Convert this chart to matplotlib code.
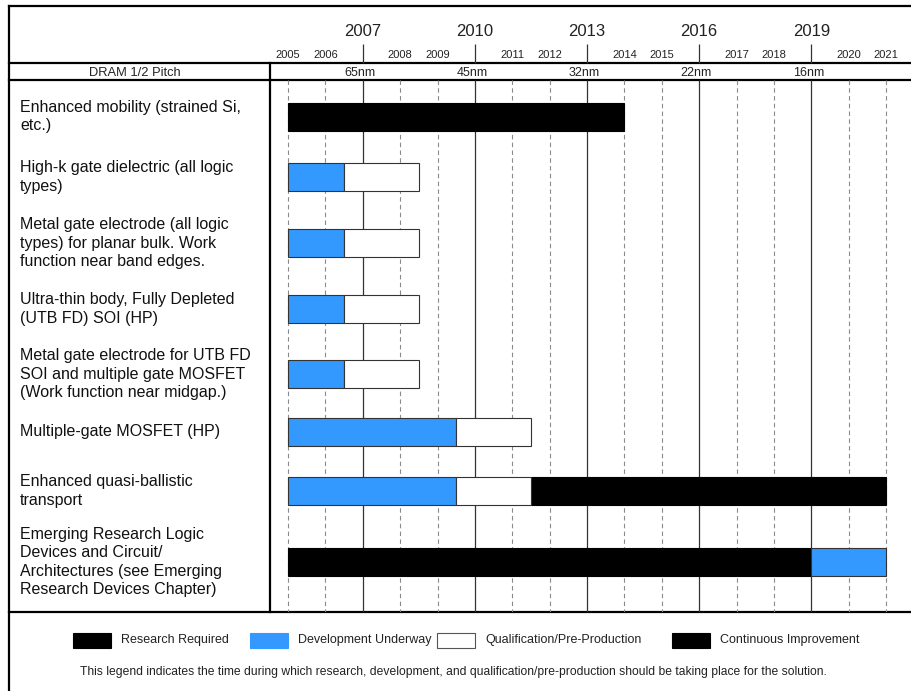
import matplotlib
matplotlib.use("Agg")
import matplotlib.pyplot as plt
from matplotlib.patches import Rectangle

plt.rcParams['font.family'] = ['Liberation Sans', 'DejaVu Sans']

# ---- data ----
labels = [
    "Enhanced mobility (strained Si,\netc.)",
    "High-k gate dielectric (all logic\ntypes)",
    "Metal gate electrode (all logic\ntypes) for planar bulk. Work\nfunction near band edges.",
    "Ultra-thin body, Fully Depleted\n(UTB FD) SOI (HP)",
    "Metal gate electrode for UTB FD\nSOI and multiple gate MOSFET\n(Work function near midgap.)",
    "Multiple-gate MOSFET (HP)",
    "Enhanced quasi-ballistic\ntransport",
    "Emerging Research Logic\nDevices and Circuit/\nArchitectures (see Emerging\nResearch Devices Chapter)",
]

years = list(range(2005, 2022))
major_years = [2007, 2010, 2013, 2016, 2019]
dram_pitch = ["65nm", "45nm", "32nm", "22nm", "16nm"]

# black bars (research required / continuous improvement)
black_rows = [0, 6, 7]
black_start = [2005, 2011.5, 2005]
black_end = [2014, 2021, 2019]

# blue bars (development underway)
dev_rows = [1, 2, 3, 4, 5, 6, 7]
dev_start = [2005, 2005, 2005, 2005, 2005, 2005, 2019]
dev_end = [2006.5, 2006.5, 2006.5, 2006.5, 2009.5, 2009.5, 2021]

# white bars (qualification / pre-production)
qual_rows = [1, 2, 3, 4, 5, 6]
qual_start = [2006.5, 2006.5, 2006.5, 2006.5, 2009.5, 2009.5]
qual_end = [2008.5, 2008.5, 2008.5, 2008.5, 2011.5, 2011.5]

legend_names = ["Research Required", "Development Underway",
                "Qualification/Pre-Production", "Continuous Improvement"]
legend_colors = ["black", "#3399ff", "white", "black"]
footnote = ("This legend indicates the time during which research, development, "
            "and qualification/pre-production should be taking place for the solution.")

# ---- layout (pixel units of the 911x691 image) ----
W, H = 911, 691
row_y = [116.5, 177, 243, 309, 374, 431.5, 491, 562]
bar_h = 28
blue = "#3399ff"
px_per_year = 37.375
x_left_px = 270

fig = plt.figure(figsize=(W / 100, H / 100), dpi=100)

# background axes in pixel coordinates: frame, label column, legend
bg = fig.add_axes([0, 0, 1, 1])
bg.set_xlim(0, W)
bg.set_ylim(H, 0)
bg.axis('off')

lw = 1.6
bg.plot([9, W], [6, 6], color='black', lw=lw)
bg.plot([9, W], [63, 63], color='black', lw=lw)
bg.plot([9, W], [80, 80], color='black', lw=lw)
bg.plot([9, W], [612, 612], color='black', lw=lw)
bg.plot([9, 9], [6, H], color='black', lw=lw)
bg.plot([x_left_px, x_left_px], [63, 612], color='black', lw=lw)

bg.text(135, 72.5, "DRAM 1/2 Pitch", fontsize=9.3, ha='center', va='center',
        color='#222222')

for lab, y in zip(labels, row_y):
    bg.text(20, y, lab, fontsize=11.5, ha='left', va='center', linespacing=1.3,
            color='#111111')

# legend
sw_x = [73, 250, 437, 672]
for name, col, x in zip(legend_names, legend_colors, sw_x):
    bg.add_patch(Rectangle((x, 633), 38, 15, facecolor=col,
                           edgecolor='#555555' if col == 'white' else col, lw=0.8))
    bg.text(x + 48, 640.5, name, fontsize=9, ha='left', va='center', color='#222222')
bg.text(453, 672, footnote, fontsize=8.7, ha='center', va='center', color='#222222')

# chart axes: x in years, y in pixel rows
x0 = 2005 - (288 - x_left_px) / px_per_year
x1 = 2005 + (W - 288) / px_per_year
ax = fig.add_axes([x_left_px / W, 1 - 612 / H, (W - x_left_px) / W, (612 - 6) / H])
ax.set_facecolor('none')
ax.set_xlim(x0, x1)
ax.set_ylim(612, 6)
ax.axis('off')

for yr in years:
    if yr in major_years:
        ax.vlines(yr, 80, 612, color='#333333', lw=0.9)
        ax.vlines(yr, 44, 63, color='#333333', lw=0.9)
        ax.text(yr, 31, str(yr), fontsize=12, ha='center', va='center', color='#222222')
    else:
        ax.vlines(yr, 80, 612, color='#8a8a8a', lw=0.8, linestyles=(0, (4, 3)))
        ax.text(yr, 55, str(yr), fontsize=8, ha='center', va='center', color='#222222')

for yr, nm in zip(major_years, dram_pitch):
    ax.text(yr - 0.08, 73, nm, fontsize=9, ha='center', va='center', color='#222222')

ax.barh([row_y[r] for r in black_rows], [e - s for s, e in zip(black_start, black_end)],
        left=black_start, height=bar_h, color='black', edgecolor='black', lw=0.8, zorder=3)
ax.barh([row_y[r] for r in dev_rows], [e - s for s, e in zip(dev_start, dev_end)],
        left=dev_start, height=bar_h, color=blue, edgecolor='#333333', lw=0.8, zorder=3)
ax.barh([row_y[r] for r in qual_rows], [e - s for s, e in zip(qual_start, qual_end)],
        left=qual_start, height=bar_h, color='white', edgecolor='#333333', lw=0.8, zorder=3)

fig.savefig("out.png", dpi=100)
